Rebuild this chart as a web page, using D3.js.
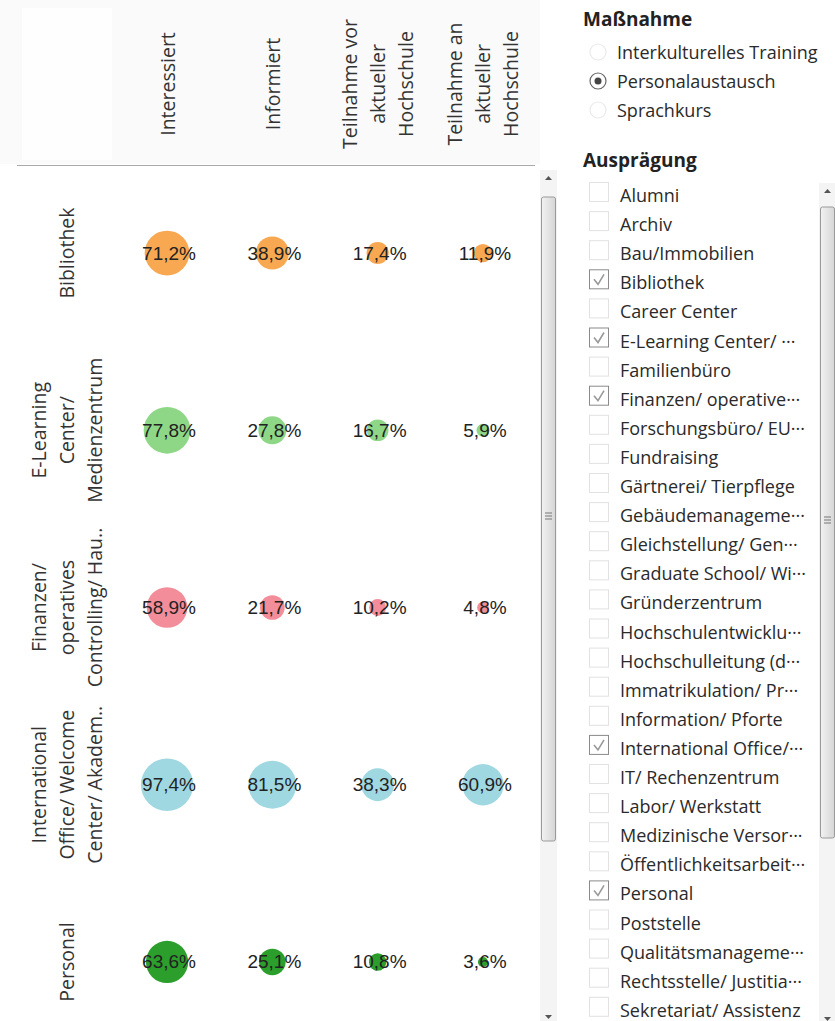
<!DOCTYPE html>
<html>
<head>
<meta charset="utf-8">
<script src="https://cdn.jsdelivr.net/npm/d3@7"></script>
<style>
  html, body { margin: 0; padding: 0; background: #ffffff; }
  svg { display: block; }
</style>
</head>
<body>
<div id="chart"></div>
<script>
// ---------- data ----------
const rowCategories = ["Bibliothek", "E-Learning Center/ Medienzentrum", "Finanzen/ operatives Controlling/ Haushalt", "International Office/ Welcome Center/ Akademisches Auslandsamt", "Personal"];
const rowLabelLines = [
  ["Bibliothek"],
  ["E-Learning", "Center/", "Medienzentrum"],
  ["Finanzen/", "operatives", "Controlling/ Hau.."],
  ["International", "Office/ Welcome", "Center/ Akadem.."],
  ["Personal"]
];
const measures = ["Interessiert", "Informiert", "Teilnahme vor aktueller Hochschule", "Teilnahme an aktueller Hochschule"];
const measureLabelLines = [
  ["Interessiert"],
  ["Informiert"],
  ["Teilnahme vor", "aktueller", "Hochschule"],
  ["Teilnahme an", "aktueller", "Hochschule"]
];
const interessiert = [71.2, 77.8, 58.9, 97.4, 63.6];
const informiert   = [38.9, 27.8, 21.7, 81.5, 25.1];
const teilnahmeVor = [17.4, 16.7, 10.2, 38.3, 10.8];
const teilnahmeAn  = [11.9, 5.9, 4.8, 60.9, 3.6];
const rowColors = ["#f8a850", "#8ed787", "#f28d99", "#a0d8e2", "#2c9e2c"];

const massnahmeTitle = "Maßnahme";
const massnahmeOptions = ["Interkulturelles Training", "Personalaustausch", "Sprachkurs"];
const massnahmeSelected = "Personalaustausch";
const auspraegungTitle = "Ausprägung";
const auspraegungItems = ["Alumni", "Archiv", "Bau/Immobilien", "Bibliothek", "Career Center",
  "E-Learning Center/ ···", "Familienbüro", "Finanzen/ operative···", "Forschungsbüro/ EU···",
  "Fundraising", "Gärtnerei/ Tierpflege", "Gebäudemanageme···", "Gleichstellung/ Gen···",
  "Graduate School/ Wi···", "Gründerzentrum", "Hochschulentwicklu···", "Hochschulleitung (d···",
  "Immatrikulation/ Pr···", "Information/ Pforte", "International Office/···", "IT/ Rechenzentrum",
  "Labor/ Werkstatt", "Medizinische Versor···", "Öffentlichkeitsarbeit···", "Personal",
  "Poststelle", "Qualitätsmanageme···", "Rechtsstelle/ Justitia···", "Sekretariat/ Assistenz"];
const auspraegungChecked = ["Bibliothek", "E-Learning Center/ ···", "Finanzen/ operative···", "International Office/···", "Personal"];

// ---------- layout ----------
const W = 835, H = 1021;
const svg = d3.select("#chart").append("svg").attr("width", W).attr("height", H);

const valueCols = [interessiert, informiert, teilnahmeVor, teilnahmeAn];
const cells = [];
rowCategories.forEach((r, i) => {
  measures.forEach((m, j) => {
    cells.push({ row: r, col: m, value: valueCols[j][i], color: rowColors[i] });
  });
});

const x = d3.scaleBand().domain(measures).range([114.4, 535.6]);
const y = d3.scaleBand().domain(rowCategories).range([164.4, 1050.6]);
const r = d3.scaleSqrt().domain([0, 100]).range([0, 26.5]);
const fmt = v => d3.format(".1f")(v).replace(".", ",") + "%";

// header background (very light)
svg.append("rect").attr("x", 0).attr("y", 0).attr("width", 540).attr("height", 164).attr("fill", "#fafafa");
svg.append("rect").attr("x", 22).attr("y", 8).attr("width", 90).attr("height", 152).attr("fill", "#fefefe");

// header line
svg.append("line").attr("x1", 17).attr("x2", 535).attr("y1", 165.5).attr("y2", 165.5)
  .attr("stroke", "#a8a8a8").attr("stroke-width", 1);

// column headers
const headG = svg.append("g");
measures.forEach((m, j) => {
  const lines = measureLabelLines[j];
  const cx = x(m) + x.bandwidth() / 2;
  lines.forEach((ln, k) => {
    headG.append("text")
      .attr("transform", `translate(${cx + (k - (lines.length - 1) / 2) * 28},84) rotate(-90)`)
      .attr("text-anchor", "middle").attr("dominant-baseline", "central")
      .attr("font-family", "'Open Sans', sans-serif").attr("font-size", 19.5)
      .attr("fill", "#333").text(ln);
  });
});

// row headers
const rowG = svg.append("g");
rowCategories.forEach((c, i) => {
  const lines = rowLabelLines[i];
  const cy = y(c) + y.bandwidth() / 2;
  lines.forEach((ln, k) => {
    rowG.append("text")
      .attr("transform", `translate(${66 + (k - (lines.length - 1) / 2) * 28},${cy}) rotate(-90)`)
      .attr("text-anchor", "middle").attr("dominant-baseline", "central")
      .attr("font-family", "'Open Sans', sans-serif").attr("font-size", 19.5)
      .attr("fill", "#333").text(ln);
  });
});

// circles
const cellG = svg.append("g");
cellG.selectAll("circle").data(cells).join("circle")
  .attr("cx", d => x(d.col) + x.bandwidth() / 2)
  .attr("cy", d => y(d.row) + y.bandwidth() / 2)
  .attr("r", d => r(d.value))
  .attr("fill", d => d.color);
cellG.selectAll("text").data(cells).join("text")
  .attr("x", d => x(d.col) + x.bandwidth() / 2 + 2)
  .attr("y", d => y(d.row) + y.bandwidth() / 2)
  .attr("text-anchor", "middle").attr("dominant-baseline", "central")
  .attr("font-family", "'Liberation Sans', Arial, sans-serif").attr("font-size", 19)
  .attr("fill", "#222").text(d => fmt(d.value));

// scrollbars
const defs = svg.append("defs");
const lg = defs.append("linearGradient").attr("id", "thumbGrad").attr("x1", "0%").attr("x2", "100%");
lg.append("stop").attr("offset", "0%").attr("stop-color", "#f2f2f2");
lg.append("stop").attr("offset", "100%").attr("stop-color", "#d6d6d6");

function scrollbar(g, x0, top, bottom, thumbTop, thumbBottom, grip) {
  g.append("rect").attr("x", x0).attr("y", top).attr("width", 17).attr("height", bottom - top).attr("fill", "#f4f4f4");
  g.append("path").attr("d", `M${x0 + 5},${top + 10} L${x0 + 8.5},${top + 6} L${x0 + 12},${top + 10} Z`).attr("fill", "#555");
  g.append("path").attr("d", `M${x0 + 5},${bottom - 10} L${x0 + 8.5},${bottom - 6} L${x0 + 12},${bottom - 10} Z`).attr("fill", "#555");
  g.append("rect").attr("x", x0 + 1.5).attr("y", thumbTop).attr("width", 14).attr("height", thumbBottom - thumbTop)
    .attr("rx", 2).attr("fill", "url(#thumbGrad)").attr("stroke", "#9a9a9a");
  for (let i = -1; i <= 1; i++) {
    g.append("line").attr("x1", x0 + 5).attr("x2", x0 + 12).attr("y1", grip + i * 3).attr("y2", grip + i * 3)
      .attr("stroke", "#777").attr("stroke-width", 1);
  }
}
scrollbar(svg.append("g"), 540, 170, 1025, 197, 841, 516);

// ---------- right panel ----------
const panel = svg.append("g");
panel.append("text").attr("x", 583).attr("y", 26).attr("font-family", "'Open Sans', sans-serif")
  .attr("font-weight", "bold").attr("font-size", 19).attr("fill", "#222").text(massnahmeTitle);
massnahmeOptions.forEach((o, i) => {
  const cy = 52 + i * 29;
  const sel = o === massnahmeSelected;
  panel.append("circle").attr("cx", 598).attr("cy", cy).attr("r", 8)
    .attr("fill", "#fff").attr("stroke", sel ? "#666" : "#eaeaea").attr("stroke-width", 1.2);
  if (sel) panel.append("circle").attr("cx", 598).attr("cy", cy).attr("r", 3.5).attr("fill", "#444");
  panel.append("text").attr("x", 617).attr("y", cy).attr("dominant-baseline", "central")
    .attr("font-family", "'Open Sans', sans-serif").attr("font-size", 18).attr("fill", "#2a2a2a").text(o);
});
panel.append("text").attr("x", 583).attr("y", 167).attr("font-family", "'Open Sans', sans-serif")
  .attr("font-weight", "bold").attr("font-size", 19).attr("fill", "#222").text(auspraegungTitle);

auspraegungItems.forEach((it, i) => {
  const cy = 195 + i * 29.1;
  const chk = auspraegungChecked.includes(it);
  panel.append("rect").attr("x", 589.5).attr("y", cy - 12.5).attr("width", 19).attr("height", 19)
    .attr("fill", "#fff").attr("stroke", chk ? "#8a8a8a" : "#e2e2e2").attr("stroke-width", 1);
  if (chk) {
    panel.append("path").attr("d", `M${594},${cy - 3} L${598},${cy + 2} L${604},${cy - 8}`)
      .attr("fill", "none").attr("stroke", "#999").attr("stroke-width", 1.6);
  }
  panel.append("text").attr("x", 620).attr("y", cy).attr("dominant-baseline", "central")
    .attr("font-family", "'Open Sans', sans-serif").attr("font-size", 18).attr("fill", "#2a2a2a").text(it);
});

scrollbar(svg.append("g"), 819, 183, 1027, 207, 838, 520);
</script>
</body>
</html>
